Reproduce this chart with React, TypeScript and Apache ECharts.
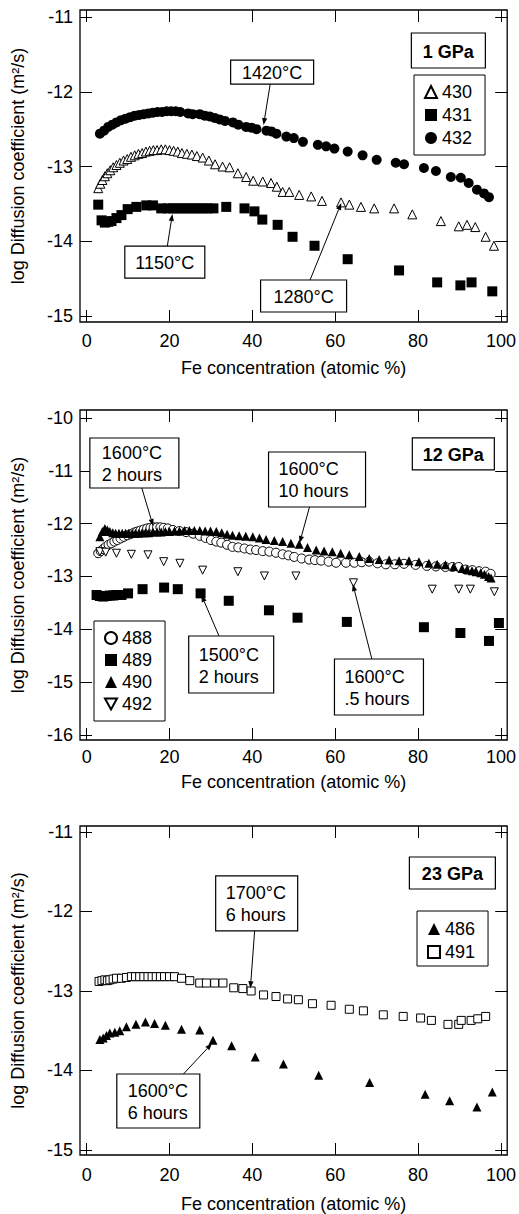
import React, { useEffect, useRef } from "react";
import * as echarts from "echarts";

const FONT = '"Liberation Sans", Arial, Helvetica, sans-serif';

// ---------- axes ----------
const xTickValues = [0, 20, 40, 60, 80, 100];
const yTickValues1 = [-15, -14, -13, -12, -11];
const yTickValues2 = [-16, -15, -14, -13, -12, -11, -10];
const yTickValues3 = [-15, -14, -13, -12, -11];
const xAxisTitle = "Fe concentration (atomic %)";
const yAxisTitle = "log Diffusion coefficient (m²/s)";

// ---------- panel 1 (1 GPa) ----------
const s430 = [
  [2.8, -13.29], [3.3, -13.23], [3.8, -13.18], [4.4, -13.13], [5.0, -13.09], [5.7, -13.05],
  [6.4, -13.01], [7.2, -12.98], [8.0, -12.95], [8.9, -12.92], [9.8, -12.9], [10.7, -12.87],
  [11.6, -12.85], [12.5, -12.83], [13.4, -12.82], [14.3, -12.8], [15.2, -12.79], [16.1, -12.78],
  [17.0, -12.78], [18.0, -12.77], [19.0, -12.77], [20.0, -12.78], [21.0, -12.79], [22.0, -12.8],
  [23.0, -12.82], [24.2, -12.83], [25.4, -12.84], [26.6, -12.86], [28.0, -12.88], [29.5, -12.92],
  [31.0, -12.97], [32.8, -13.0], [34.5, -13.01], [36.5, -13.09], [38.5, -13.14], [40.2, -13.19],
  [42.5, -13.2], [44.5, -13.22], [45.9, -13.27], [47.3, -13.34], [48.9, -13.34], [51.3, -13.38],
  [54.2, -13.4], [56.8, -13.46], [61.4, -13.48], [63.4, -13.51], [66.2, -13.54], [69.4, -13.56],
  [74.2, -13.56], [78.6, -13.64], [85.5, -13.73], [89.8, -13.8], [91.8, -13.78], [93.8, -13.81],
  [96.3, -13.94], [98.3, -14.06],
];
const s431 = [
  [2.8, -13.51], [3.6, -13.72], [4.4, -13.75], [5.2, -13.74], [6.0, -13.73], [7.2, -13.69],
  [8.4, -13.65], [9.9, -13.57], [12.0, -13.54], [14.4, -13.52], [16.0, -13.52], [18.0, -13.56],
  [19.6, -13.56], [20.8, -13.56], [22.0, -13.56], [23.2, -13.56], [24.4, -13.56], [25.6, -13.56],
  [26.8, -13.56], [28.0, -13.56], [29.2, -13.56], [30.6, -13.56], [33.7, -13.54], [38.1, -13.56],
  [40.5, -13.6], [42.4, -13.71], [46.1, -13.78], [49.7, -13.94], [55.0, -14.06], [63.0, -14.24],
  [75.4, -14.39], [84.6, -14.55], [90.2, -14.59], [92.9, -14.55], [97.9, -14.67],
];
const s432 = [
  [3.2, -12.56], [4.2, -12.52], [5.2, -12.47], [6.2, -12.44], [7.2, -12.41], [8.3, -12.38],
  [9.4, -12.36], [10.5, -12.34], [11.6, -12.32], [12.7, -12.31], [13.8, -12.3], [14.9, -12.29],
  [16.0, -12.28], [17.1, -12.27], [18.2, -12.27], [19.3, -12.26], [20.4, -12.26], [21.5, -12.26],
  [22.6, -12.27], [24.5, -12.29], [25.6, -12.3], [27.3, -12.3], [28.5, -12.32], [29.7, -12.33],
  [30.9, -12.35], [32.1, -12.37], [33.4, -12.39], [35.3, -12.41], [36.6, -12.44], [38.5, -12.47],
  [39.8, -12.48], [41.0, -12.5], [43.4, -12.52], [44.6, -12.53], [45.8, -12.56], [48.2, -12.6],
  [50.0, -12.62], [52.2, -12.67], [55.8, -12.71], [57.8, -12.73], [59.8, -12.76], [63.0, -12.8],
  [66.6, -12.85], [70.0, -12.91], [74.6, -12.95], [76.6, -12.97], [81.4, -13.02], [84.3, -13.06],
  [87.9, -13.14], [90.3, -13.15], [92.2, -13.22], [94.2, -13.31], [95.9, -13.36], [97.1, -13.41],
];

// ---------- panel 2 (12 GPa) ----------
const s488 = [
  [2.8, -12.56], [3.4, -12.52], [4.0, -12.48], [4.6, -12.44], [5.3, -12.4], [6.0, -12.37],
  [6.7, -12.34], [7.4, -12.31], [8.2, -12.28], [9.0, -12.25], [9.8, -12.22], [10.6, -12.2],
  [11.4, -12.17], [12.2, -12.15], [13.0, -12.13], [13.8, -12.11], [14.6, -12.09], [15.4, -12.08],
  [16.2, -12.07], [17.0, -12.07], [17.8, -12.07], [18.6, -12.08], [19.6, -12.09], [20.8, -12.12],
  [22.4, -12.14], [24.0, -12.16], [25.7, -12.19], [27.3, -12.23], [28.7, -12.27], [30.0, -12.31],
  [31.3, -12.34], [32.5, -12.36], [33.9, -12.4], [35.2, -12.44], [36.6, -12.45], [38.1, -12.47],
  [39.5, -12.49], [40.9, -12.5], [42.5, -12.52], [44.1, -12.53], [45.7, -12.55], [47.3, -12.58],
  [48.7, -12.6], [50.1, -12.63], [51.9, -12.66], [53.7, -12.68], [55.1, -12.69], [56.6, -12.7],
  [58.4, -12.72], [60.2, -12.74], [62.6, -12.74], [64.6, -12.74], [66.4, -12.73], [68.2, -12.72],
  [70.2, -12.75], [72.2, -12.77], [74.4, -12.77], [76.6, -12.76], [79.4, -12.78], [82.1, -12.8],
  [84.3, -12.81], [86.6, -12.82], [88.3, -12.82], [89.8, -12.82], [91.5, -12.87], [93.1, -12.88],
  [94.7, -12.9], [96.3, -12.91], [97.5, -12.95],
];
const s489 = [
  [2.4, -13.35], [3.2, -13.37], [4.0, -13.38], [4.8, -13.37], [5.6, -13.36], [6.4, -13.36],
  [7.2, -13.35], [8.4, -13.35], [10.0, -13.32], [13.5, -13.24], [18.7, -13.21], [22.0, -13.24],
  [27.5, -13.32], [34.3, -13.46], [44.0, -13.64], [50.9, -13.78], [62.8, -13.86], [81.4, -13.96],
  [90.2, -14.07], [97.1, -14.22], [99.5, -13.88],
];
const s490 = [
  [3.2, -12.25], [3.8, -12.15], [4.4, -12.09], [5.0, -12.12], [5.6, -12.15], [6.3, -12.17],
  [7.0, -12.18], [7.8, -12.18], [8.6, -12.18], [9.4, -12.18], [10.2, -12.18], [11.0, -12.18],
  [11.8, -12.18], [12.6, -12.18], [13.4, -12.17], [14.2, -12.17], [15.0, -12.17], [16.0, -12.16],
  [17.0, -12.16], [18.0, -12.16], [19.0, -12.15], [20.0, -12.15], [21.2, -12.14], [22.4, -12.14],
  [23.6, -12.13], [24.8, -12.13], [26.0, -12.13], [27.3, -12.13], [28.6, -12.14], [29.9, -12.14],
  [31.3, -12.15], [32.6, -12.17], [33.9, -12.2], [35.2, -12.22], [36.8, -12.23], [38.4, -12.24],
  [40.1, -12.25], [41.7, -12.27], [43.3, -12.3], [45.3, -12.32], [47.3, -12.34], [49.3, -12.37],
  [51.3, -12.39], [53.3, -12.45], [55.4, -12.5], [57.3, -12.52], [59.3, -12.53], [61.3, -12.56],
  [63.4, -12.59], [65.8, -12.62], [68.2, -12.66], [70.6, -12.68], [73.0, -12.69], [75.4, -12.7],
  [77.8, -12.7], [80.2, -12.72], [82.6, -12.75], [84.6, -12.77], [86.6, -12.78], [88.6, -12.81],
  [90.6, -12.85], [91.8, -12.87], [93.0, -12.89], [94.0, -12.91], [95.1, -12.93], [96.0, -12.96],
  [97.0, -13.0], [97.6, -13.03],
];
const s492 = [
  [3.2, -12.53], [4.6, -12.54], [7.2, -12.56], [10.8, -12.58], [14.8, -12.59], [18.6, -12.72],
  [22.5, -12.75], [28.0, -12.88], [36.5, -12.91], [42.9, -12.99], [50.5, -12.99], [64.4, -13.12],
  [83.4, -13.24], [89.8, -13.24], [92.6, -13.24], [98.4, -13.29],
];

// ---------- panel 3 (23 GPa) ----------
const s486 = [
  [3.2, -13.61], [4.0, -13.59], [4.8, -13.56], [5.6, -13.53], [6.8, -13.52], [8.0, -13.5],
  [9.6, -13.45], [11.9, -13.42], [14.2, -13.39], [16.4, -13.41], [19.0, -13.43], [22.9, -13.48],
  [27.3, -13.49], [30.5, -13.62], [35.0, -13.69], [40.7, -13.83], [47.5, -13.92], [56.0, -14.06],
  [68.3, -14.15], [81.7, -14.3], [87.6, -14.38], [94.2, -14.46], [97.9, -14.27],
];
const s491 = [
  [3.0, -12.88], [3.7, -12.87], [4.4, -12.86], [5.0, -12.87], [5.6, -12.86], [6.4, -12.85],
  [7.2, -12.84], [8.4, -12.84], [9.6, -12.83], [10.8, -12.82], [11.8, -12.82], [12.8, -12.82],
  [13.8, -12.82], [14.8, -12.82], [15.8, -12.82], [16.8, -12.82], [17.8, -12.82], [18.8, -12.82],
  [20.0, -12.82], [21.2, -12.82], [22.9, -12.84], [24.9, -12.87], [27.3, -12.9], [28.9, -12.9],
  [30.9, -12.9], [32.9, -12.9], [35.5, -12.96], [37.7, -12.97], [39.7, -13.0], [42.7, -13.05],
  [45.7, -13.07], [48.5, -13.1], [51.1, -13.11], [54.5, -13.16], [59.0, -13.18], [63.4, -13.23],
  [66.8, -13.25], [71.6, -13.3], [76.4, -13.32], [80.6, -13.34], [83.2, -13.37], [87.2, -13.42],
  [89.8, -13.42], [90.4, -13.37], [92.8, -13.37], [94.4, -13.35], [96.3, -13.32],
];

// ---------- annotation texts and arrow tips (data coords) ----------
const panelLabels = ["1 GPa", "12 GPa", "23 GPa"];
const noteTexts = [
  "1420°C", "1150°C", "1280°C",
  "1600°C\n2 hours", "1600°C\n10 hours", "1500°C\n2 hours", "1600°C\n.5 hours",
  "1700°C\n6 hours", "1600°C\n6 hours",
];
const noteTips = [
  [42.7, -12.445], [20.7, -13.635], [61.45, -13.488],
  [16.05, -12.044], [51.4, -12.366], [27.71, -13.35], [64.24, -13.142],
  [39.52, -12.966], [30.27, -13.658],
];

// ---------- layout / style (not data) ----------
const PANELS = [
  { top: 10, height: 312, yMin: -15.08, yMax: -10.906, yTicks: yTickValues1, labelMargin: 10, nameGap: 37 },
  { top: 410, height: 330, yMin: -16.095, yMax: -9.849, yTicks: yTickValues2, labelMargin: 8, nameGap: 33 },
  { top: 826, height: 329, yMin: -15.063, yMax: -10.925, yTicks: yTickValues3, labelMargin: 11, nameGap: 40 },
];
const GRID_LEFT = 80;
const GRID_WIDTH = 428;
const X_MIN = -1.6;
const X_MAX = 101.5;
const DOWN_TRIANGLE = "path://M0,0L10,0L5,9Z";

const SERIES = [
  { name: "430", data: s430, panel: 0, symbol: "triangle", open: true, size: 9 },
  { name: "431", data: s431, panel: 0, symbol: "rect", open: false, size: 10 },
  { name: "432", data: s432, panel: 0, symbol: "circle", open: false, size: 10 },
  { name: "488", data: s488, panel: 1, symbol: "circle", open: true, size: 9 },
  { name: "489", data: s489, panel: 1, symbol: "rect", open: false, size: 10 },
  { name: "492", data: s492, panel: 1, symbol: DOWN_TRIANGLE, open: true, size: 8 },
  { name: "490", data: s490, panel: 1, symbol: "triangle", open: false, size: 9 },
  { name: "486", data: s486, panel: 2, symbol: "triangle", open: false, size: 9 },
  { name: "491", data: s491, panel: 2, symbol: "rect", open: true, size: 8 },
];

const LEGENDS = [
  { panel: 0, items: ["430", "431", "432"], left: 414, top: 75, gap: 3, padding: [7, 13, 7, 10] },
  { panel: 1, items: ["488", "489", "490", "492"], left: 94, top: 621, gap: 2, padding: [7, 13, 7, 10] },
  { panel: 2, items: ["486", "491"], left: 417, top: 911, gap: 3, padding: [8, 13, 4, 10] },
];

// box center (data coords), box size px, text alignment
const TITLE_BOXES = [
  { panel: 0, center: [87.3, -11.448], w: 74, h: 35 },
  { panel: 1, center: [88.5, -10.681], w: 82, h: 32 },
  { panel: 2, center: [88.27, -11.516], w: 86, h: 32 },
];
const NOTE_BOXES = [
  { panel: 0, center: [44.77, -11.736], w: 83, h: 24, align: "center" },
  { panel: 0, center: [18.87, -14.278], w: 80, h: 32, align: "center" },
  { panel: 0, center: [52.36, -14.732], w: 86, h: 32, align: "center" },
  { panel: 1, center: [11.52, -10.852], w: 89, h: 50, align: "left", pad: 12 },
  { panel: 1, center: [55.61, -11.164], w: 97, h: 55, align: "left", pad: 10 },
  { panel: 1, center: [34.89, -14.666], w: 85, h: 57, align: "left", pad: 10 },
  { panel: 1, center: [70.55, -15.092], w: 89, h: 56, align: "left", pad: 10 },
  { panel: 2, center: [41.04, -11.899], w: 82, h: 55, align: "left", pad: 10 },
  { panel: 2, center: [17.3, -14.384], w: 83, h: 54, align: "left", pad: 11 },
];

function buildOption() {
  const grid: any[] = [];
  const xAxis: any[] = [];
  const yAxis: any[] = [];
  const textStyle = { fontSize: 18, fontFamily: FONT, color: "#000" };
  PANELS.forEach((p, i) => {
    grid.push({
      left: GRID_LEFT, top: p.top, width: GRID_WIDTH, height: p.height,
      show: true, borderColor: "#000", borderWidth: 1.3, backgroundColor: "transparent",
    });
    const tick = (vals: number[]) => ({
      show: true, inside: true, length: 12, customValues: vals,
      lineStyle: { color: "#000", width: 1 },
    });
    xAxis.push({
      type: "value", gridIndex: i, min: X_MIN, max: X_MAX, position: "bottom",
      axisLine: { show: false, onZero: false }, splitLine: { show: false },
      axisTick: tick(xTickValues),
      axisLabel: { customValues: xTickValues, margin: p.labelMargin, ...textStyle },
      name: xAxisTitle, nameLocation: "middle", nameGap: p.nameGap, nameTextStyle: textStyle,
    });
    xAxis.push({
      type: "value", gridIndex: i, min: X_MIN, max: X_MAX, position: "top",
      axisLine: { show: false, onZero: false }, splitLine: { show: false },
      axisTick: tick(xTickValues), axisLabel: { show: false },
    });
    yAxis.push({
      type: "value", gridIndex: i, min: p.yMin, max: p.yMax, position: "left",
      axisLine: { show: false, onZero: false }, splitLine: { show: false },
      axisTick: tick(p.yTicks),
      axisLabel: { customValues: p.yTicks, margin: 7, ...textStyle },
      name: yAxisTitle, nameLocation: "middle", nameGap: 53, nameTextStyle: textStyle,
    });
    yAxis.push({
      type: "value", gridIndex: i, min: p.yMin, max: p.yMax, position: "right",
      axisLine: { show: false, onZero: false }, splitLine: { show: false },
      axisTick: tick(p.yTicks), axisLabel: { show: false },
    });
  });

  const series = SERIES.map((s) => ({
    type: "scatter",
    name: s.name,
    data: s.data,
    xAxisIndex: s.panel * 2,
    yAxisIndex: s.panel * 2,
    symbol: s.symbol,
    symbolSize: s.size,
    itemStyle: s.open
      ? { color: "#fff", borderColor: "#000", borderWidth: 1, opacity: 1 }
      : { color: "#000", borderColor: "#000", borderWidth: 0, opacity: 1 },
    emphasis: { disabled: true },
  }));

  const legend = LEGENDS.map((l) => ({
    data: l.items,
    orient: "vertical",
    left: l.left,
    top: l.top,
    itemWidth: 12,
    itemHeight: 12,
    itemGap: l.gap,
    padding: l.padding,
    borderColor: "#000",
    borderWidth: 1,
    borderRadius: 0,
    backgroundColor: "#fff",
    selectedMode: false,
    textStyle: { fontSize: 18, fontFamily: FONT, color: "#000", lineHeight: 20 },
    z: 20,
  }));

  return { animation: false, backgroundColor: "#fff", grid, xAxis, yAxis, series, legend };
}

function firstSeriesOfPanel(panel: number) {
  return SERIES.findIndex((s) => s.panel === panel);
}

function buildGraphics(chart: any) {
  const els: any[] = [];
  const boxAt = (panel: number, center: number[], w: number, h: number) => {
    const c = chart.convertToPixel({ seriesIndex: firstSeriesOfPanel(panel) }, center);
    return { c, left: c[0] - w / 2, top: c[1] - h / 2 };
  };
  TITLE_BOXES.forEach((b, i) => {
    const { c, left, top } = boxAt(b.panel, b.center, b.w, b.h);
    els.push({
      type: "rect", z: 30,
      shape: { x: left, y: top, width: b.w, height: b.h },
      style: { fill: "#fff", stroke: "#000", lineWidth: 1.2 },
    });
    els.push({
      type: "text", z: 31, x: c[0], y: c[1] + 1,
      style: {
        text: panelLabels[i], fontSize: 18, fontWeight: "bold", fontFamily: FONT,
        fill: "#000", align: "center", verticalAlign: "middle",
      },
    });
  });
  NOTE_BOXES.forEach((b: any, i) => {
    const { c, left, top } = boxAt(b.panel, b.center, b.w, b.h);
    els.push({
      type: "rect", z: 30,
      shape: { x: left, y: top, width: b.w, height: b.h },
      style: { fill: "#fff", stroke: "#000", lineWidth: 1.2 },
    });
    els.push({
      type: "text", z: 31,
      x: b.align === "left" ? left + b.pad : c[0],
      y: c[1] + 1,
      style: {
        text: noteTexts[i], fontSize: 18, fontFamily: FONT, fill: "#000",
        align: b.align, verticalAlign: "middle", lineHeight: 22,
      },
    });
    const t = chart.convertToPixel({ seriesIndex: firstSeriesOfPanel(b.panel) }, noteTips[i]);
    const dx = t[0] - c[0];
    const dy = t[1] - c[1];
    const sx = dx === 0 ? Infinity : b.w / 2 / Math.abs(dx);
    const sy = dy === 0 ? Infinity : b.h / 2 / Math.abs(dy);
    const s = Math.min(sx, sy);
    const start = [c[0] + dx * s, c[1] + dy * s];
    const len = Math.hypot(t[0] - start[0], t[1] - start[1]);
    const ux = (t[0] - start[0]) / len;
    const uy = (t[1] - start[1]) / len;
    const L = 7;
    const W = 2.6;
    const base = [t[0] - ux * L, t[1] - uy * L];
    els.push({
      type: "line", z: 30,
      shape: { x1: start[0], y1: start[1], x2: base[0], y2: base[1] },
      style: { stroke: "#000", lineWidth: 1 },
    });
    els.push({
      type: "polygon", z: 30,
      shape: { points: [[t[0], t[1]], [base[0] - uy * W, base[1] + ux * W], [base[0] + uy * W, base[1] - ux * W]] },
      style: { fill: "#000" },
    });
  });
  return els;
}

export default function App() {
  const ref = useRef<HTMLDivElement>(null);
  useEffect(() => {
    const chart = echarts.init(ref.current!, null, { renderer: "svg" });
    chart.setOption(buildOption());
    chart.setOption({ graphic: { elements: buildGraphics(chart) } });
    return () => chart.dispose();
  }, []);
  return (
    <div
      ref={ref}
      style={{ position: "absolute", left: 0, top: 0, width: 519, height: 1214, background: "#fff" }}
    />
  );
}
